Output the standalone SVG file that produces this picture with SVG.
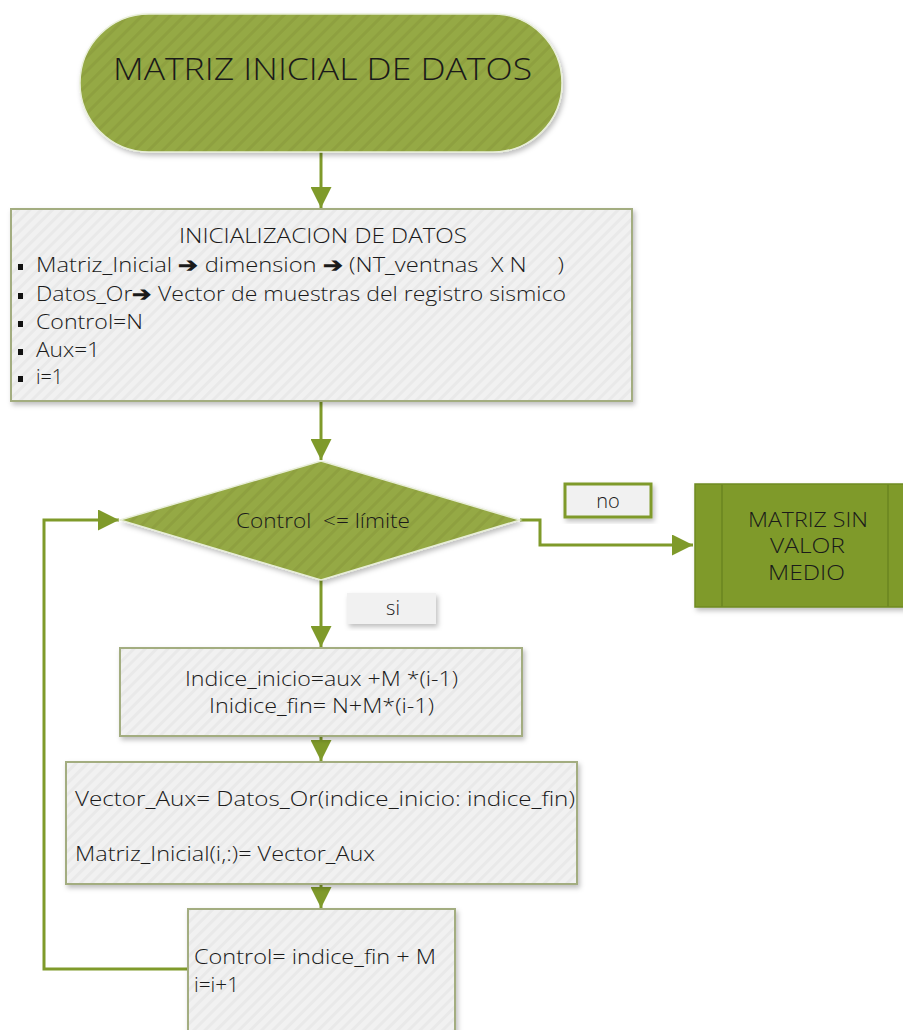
<svg xmlns="http://www.w3.org/2000/svg" width="903" height="1030" viewBox="0 0 903 1030">
  <style>
    .t { font-family: "Open Sans", "Liberation Sans", sans-serif; font-weight: 300; fill: #1a1a1a; }
    .box { fill: url(#greyStripe); stroke: #a3ad80; stroke-width: 2; }
    .green { fill: url(#greenStripe); stroke: #e8eed8; stroke-width: 1.5; }
    .conn { fill: none; stroke: #7f9a2a; stroke-width: 3; }
  </style>
  <defs>
    <pattern id="greyStripe" width="8" height="8" patternUnits="userSpaceOnUse" patternTransform="rotate(45)">
      <rect width="8" height="8" fill="#f1f1f1"/>
      <rect width="3" height="8" fill="#e9e9e9"/>
    </pattern>
    <pattern id="greenStripe" width="10" height="10" patternUnits="userSpaceOnUse" patternTransform="rotate(45)">
      <rect width="10" height="10" fill="#95a944"/>
      <rect width="3" height="10" fill="#8ea03f"/>
    </pattern>
    <filter id="shadow" x="-10%" y="-10%" width="130%" height="130%">
      <feDropShadow dx="2" dy="3" stdDeviation="2.5" flood-color="#000" flood-opacity="0.25"/>
    </filter>
    <marker id="arrow" viewBox="0 0 10 10" refX="10" refY="5" markerWidth="7" markerHeight="7" markerUnits="strokeWidth" orient="auto">
      <path d="M0,0 L10,5 L0,10 z" fill="#7f9a2a"/>
    </marker>
  </defs>

  <!-- connectors -->
  <g id="connectors">
    <path class="conn" d="M321,152 V208" marker-end="url(#arrow)"/>
    <path class="conn" d="M321,401 V460" marker-end="url(#arrow)"/>
    <path class="conn" d="M520,520 H540 V545 H693" marker-end="url(#arrow)"/>
    <path class="conn" d="M321,580 V647" marker-end="url(#arrow)"/>
    <path class="conn" d="M321,736 V761" marker-end="url(#arrow)"/>
    <path class="conn" d="M321,884 V908" marker-end="url(#arrow)"/>
    <path class="conn" d="M188,969 H44 V520 H119" marker-end="url(#arrow)"/>
  </g>

  <!-- start terminal -->
  <g id="start">
    <rect class="green" x="80" y="14" width="482" height="138" rx="69" ry="69" filter="url(#shadow)"/>
    <text class="t" x="113" y="80" font-size="31" textLength="419" lengthAdjust="spacingAndGlyphs">MATRIZ INICIAL DE DATOS</text>
  </g>

  <!-- initialisation block -->
  <g id="init">
    <rect class="box" x="11" y="209" width="621" height="192" filter="url(#shadow)"/>
    <text class="t" x="179" y="243" font-size="20" textLength="288" lengthAdjust="spacingAndGlyphs">INICIALIZACION DE DATOS</text>
    <rect x="18" y="264" width="5" height="6" fill="#111"/>
    <text class="t" x="36" y="272" font-size="20" textLength="528" lengthAdjust="spacingAndGlyphs" xml:space="preserve">Matriz_Inicial <tspan font-weight="700">➔</tspan> dimension <tspan font-weight="700">➔</tspan> (NT_ventnas  X N     )</text>
    <rect x="18" y="293" width="5" height="6" fill="#111"/>
    <text class="t" x="36" y="301" font-size="20" textLength="530" lengthAdjust="spacingAndGlyphs">Datos_Or<tspan font-weight="700">➔</tspan> Vector de muestras del registro sismico</text>
    <rect x="18" y="321" width="5" height="6" fill="#111"/>
    <text class="t" x="36" y="329" font-size="20" textLength="107" lengthAdjust="spacingAndGlyphs">Control=N</text>
    <rect x="18" y="349" width="5" height="6" fill="#111"/>
    <text class="t" x="36" y="357" font-size="20" textLength="64" lengthAdjust="spacingAndGlyphs">Aux=1</text>
    <rect x="18" y="376" width="5" height="6" fill="#111"/>
    <text class="t" x="36" y="384" font-size="20" textLength="27" lengthAdjust="spacingAndGlyphs">i=1</text>
  </g>

  <!-- loop condition -->
  <g id="decision">
    <polygon class="green" points="321,461 520,520 321,580 120,520" filter="url(#shadow)"/>
    <text class="t" x="236" y="528" font-size="20" textLength="174" lengthAdjust="spacingAndGlyphs" xml:space="preserve">Control  &lt;= límite</text>
  </g>

  <!-- branch label no -->
  <g id="label-no">
    <rect x="565" y="484" width="86" height="33" fill="#f1f1f1" stroke="#7f9a2a" stroke-width="3" filter="url(#shadow)"/>
    <text class="t" x="608" y="508" font-size="20" text-anchor="middle">no</text>
  </g>

  <!-- exit block -->
  <g id="no-mean">
    <rect x="695" y="484" width="215" height="123" fill="#7f9a2a" stroke="#6f8a22" stroke-width="1.5" filter="url(#shadow)"/>
    <line x1="722" y1="484" x2="722" y2="607" stroke="#6f8a22" stroke-width="2"/>
    <line x1="888" y1="484" x2="888" y2="607" stroke="#6f8a22" stroke-width="2"/>
    <text class="t" x="748" y="527" font-size="20" textLength="120" lengthAdjust="spacingAndGlyphs">MATRIZ SIN</text>
    <text class="t" x="770" y="553" font-size="20" textLength="75" lengthAdjust="spacingAndGlyphs">VALOR</text>
    <text class="t" x="768" y="580" font-size="20" textLength="77" lengthAdjust="spacingAndGlyphs">MEDIO</text>
  </g>

  <!-- branch label si -->
  <g id="label-si">
    <rect x="347" y="593" width="89" height="31" fill="#f1f1f1" filter="url(#shadow)"/>
    <text class="t" x="393" y="615" font-size="20" text-anchor="middle">si</text>
  </g>

  <!-- index computation -->
  <g id="indices">
    <rect class="box" x="120" y="648" width="402" height="88" filter="url(#shadow)"/>
    <text class="t" x="185" y="686" font-size="20" textLength="273" lengthAdjust="spacingAndGlyphs">Indice_inicio=aux +M *(i-1)</text>
    <text class="t" x="209" y="713" font-size="20" textLength="225" lengthAdjust="spacingAndGlyphs">Inidice_fin= N+M*(i-1)</text>
  </g>

  <!-- copy window -->
  <g id="copy">
    <rect class="box" x="66" y="762" width="511" height="122" filter="url(#shadow)"/>
    <text class="t" x="75" y="806" font-size="20" textLength="500" lengthAdjust="spacingAndGlyphs">Vector_Aux= Datos_Or(indice_inicio: indice_fin)</text>
    <text class="t" x="75" y="861" font-size="20" textLength="300" lengthAdjust="spacingAndGlyphs">Matriz_Inicial(i,:)= Vector_Aux</text>
  </g>

  <!-- update counters -->
  <g id="update">
    <rect class="box" x="188" y="909" width="267" height="130" filter="url(#shadow)"/>
    <text class="t" x="194" y="964" font-size="20" textLength="242" lengthAdjust="spacingAndGlyphs">Control= indice_fin + M</text>
    <text class="t" x="194" y="992" font-size="20" textLength="45" lengthAdjust="spacingAndGlyphs">i=i+1</text>
  </g>
</svg>
